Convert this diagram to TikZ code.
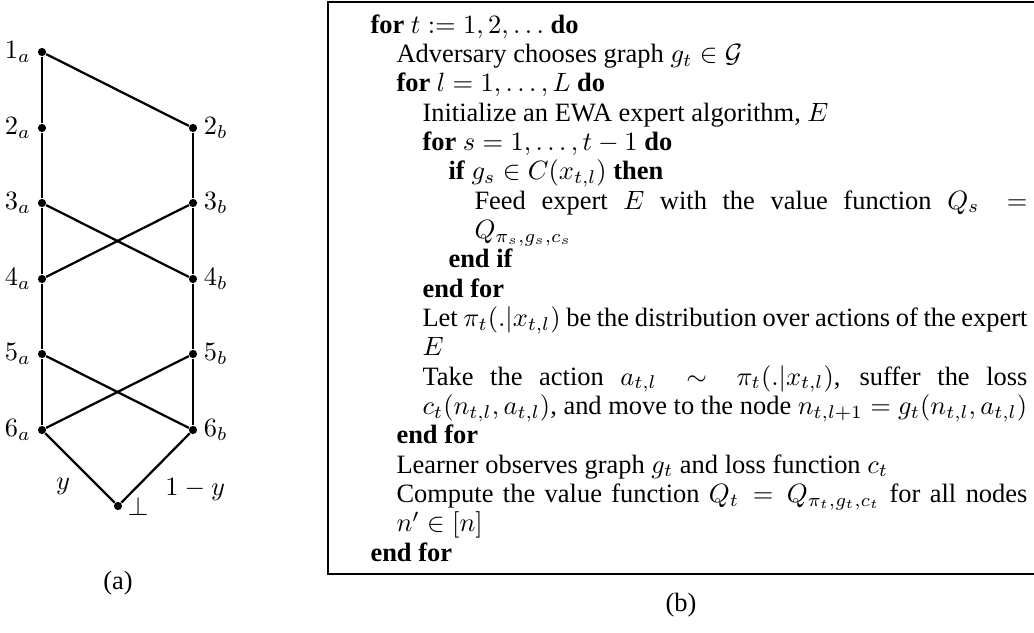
\documentclass[tikz,border=0pt]{standalone}
\usepackage[no-math]{fontspec}
\setmainfont{Liberation Serif}
\begin{document}
\begin{tikzpicture}[x=0.378pt,y=-0.378pt,
  vtx/.style={circle,fill=black,inner sep=0pt,minimum size=3.1pt},
  gedge/.style={line width=0.85pt},
  every label/.style={inner sep=1pt},
  label distance=1.2pt,
  alg/.style={anchor=base west,inner sep=0pt,text height=7pt,text depth=2pt,font=\fontsize{10}{12}\selectfont},
  capt/.style={inner sep=0pt,font=\fontsize{10}{12}\selectfont},
  frame/.style={line width=0.5pt}]
\useasboundingbox (0,0) rectangle (1034,632);
% ---------- graph (a)
\node[vtx,label=left:$1_a$] (a1) at (42,52) {};
\node[vtx,label=left:$2_a$] (a2) at (42,128) {};
\node[vtx,label=left:$3_a$] (a3) at (42,203) {};
\node[vtx,label=left:$4_a$] (a4) at (42,279) {};
\node[vtx,label=left:$5_a$] (a5) at (42,354) {};
\node[vtx,label=left:$6_a$] (a6) at (42,430) {};
\node[vtx,label=right:$2_b$] (b2) at (193,128) {};
\node[vtx,label=right:$3_b$] (b3) at (193,203) {};
\node[vtx,label=right:$4_b$] (b4) at (193,279) {};
\node[vtx,label=right:$5_b$] (b5) at (193,354) {};
\node[vtx,label=right:$6_b$] (b6) at (193,430) {};
\node[vtx,label={[label distance=0.8pt]right:$\perp$}] (bot) at (118,506) {};
\draw[gedge] (a1) -- (a2) -- (a3) -- (a4) -- (a5) -- (a6);
\draw[gedge] (b2) -- (b3) -- (b4) -- (b5) -- (b6);
\draw[gedge] (a1) -- (b2);
\draw[gedge] (a3) -- (b4);
\draw[gedge] (b3) -- (a4);
\draw[gedge] (a5) -- (b6);
\draw[gedge] (b5) -- (a6);
\draw[gedge] (a6) -- node[below left] (ly) {$y$} (bot);
\draw[gedge] (b6) -- node[below right] (lny) {$1-y$} (bot);
\node[capt] (capa) at (118,583) {(a)};
% ---------- algorithm (b)
\draw[frame] (1034,2) -- (328,2) -- (328,574) -- (1034,574);
\node[alg] (l0) at (370,33) {\textbf{for} $t := 1, 2, \ldots$ \textbf{do}};
\node[alg] (l1) at (396,62.3) {Adversary chooses graph $g_t \in \mathcal{G}$};
\node[alg] (l2) at (396,91.7) {\textbf{for} $l = 1, \ldots, L$ \textbf{do}};
\node[alg] (l3) at (422,121) {Initialize an EWA expert algorithm, $E$};
\node[alg] (l4) at (422,150.3) {\textbf{for} $s = 1, \ldots, t-1$ \textbf{do}};
\node[alg] (l5) at (448,179.7) {\textbf{if} $g_s \in C(x_{t,l})$ \textbf{then}};
\node[alg] (l6) at (474,209) {\makebox[209pt][s]{Feed expert $E$ with the value function $Q_s =$}};
\node[alg] (l7) at (474,238.3) {$Q_{\pi_s, g_s, c_s}$};
\node[alg] (l8) at (448,267.7) {\textbf{end if}};
\node[alg] (l9) at (422,297) {\textbf{end for}};
\node[alg] (l10) at (422,326.3) {\makebox[228.7pt][s]{Let $\pi_t(.|x_{t,l})$ be the distribution over actions of the expert}};
\node[alg] (l11) at (422,355.7) {$E$};
\node[alg] (l12) at (422,385) {\makebox[228.7pt][s]{Take the action $a_{t,l} \sim \pi_t(.|x_{t,l})$, suffer the loss}};
\node[alg] (l13) at (422,414.3) {$c_t(n_{t,l}, a_{t,l})$, and move to the node $n_{t,l+1} = g_t(n_{t,l}, a_{t,l})$};
\node[alg] (l14) at (396,443.7) {\textbf{end for}};
\node[alg] (l15) at (396,473) {Learner observes graph $g_t$ and loss function $c_t$};
\node[alg] (l16) at (396,502.3) {\makebox[238.5pt][s]{Compute the value function $Q_t = Q_{\pi_t, g_t, c_t}$ for all nodes}};
\node[alg] (l17) at (396,531.7) {$n' \in [n]$};
\node[alg] (l18) at (370,561) {\textbf{end for}};
\node[capt] (capb) at (681,605) {(b)};
\end{tikzpicture}
\end{document}
